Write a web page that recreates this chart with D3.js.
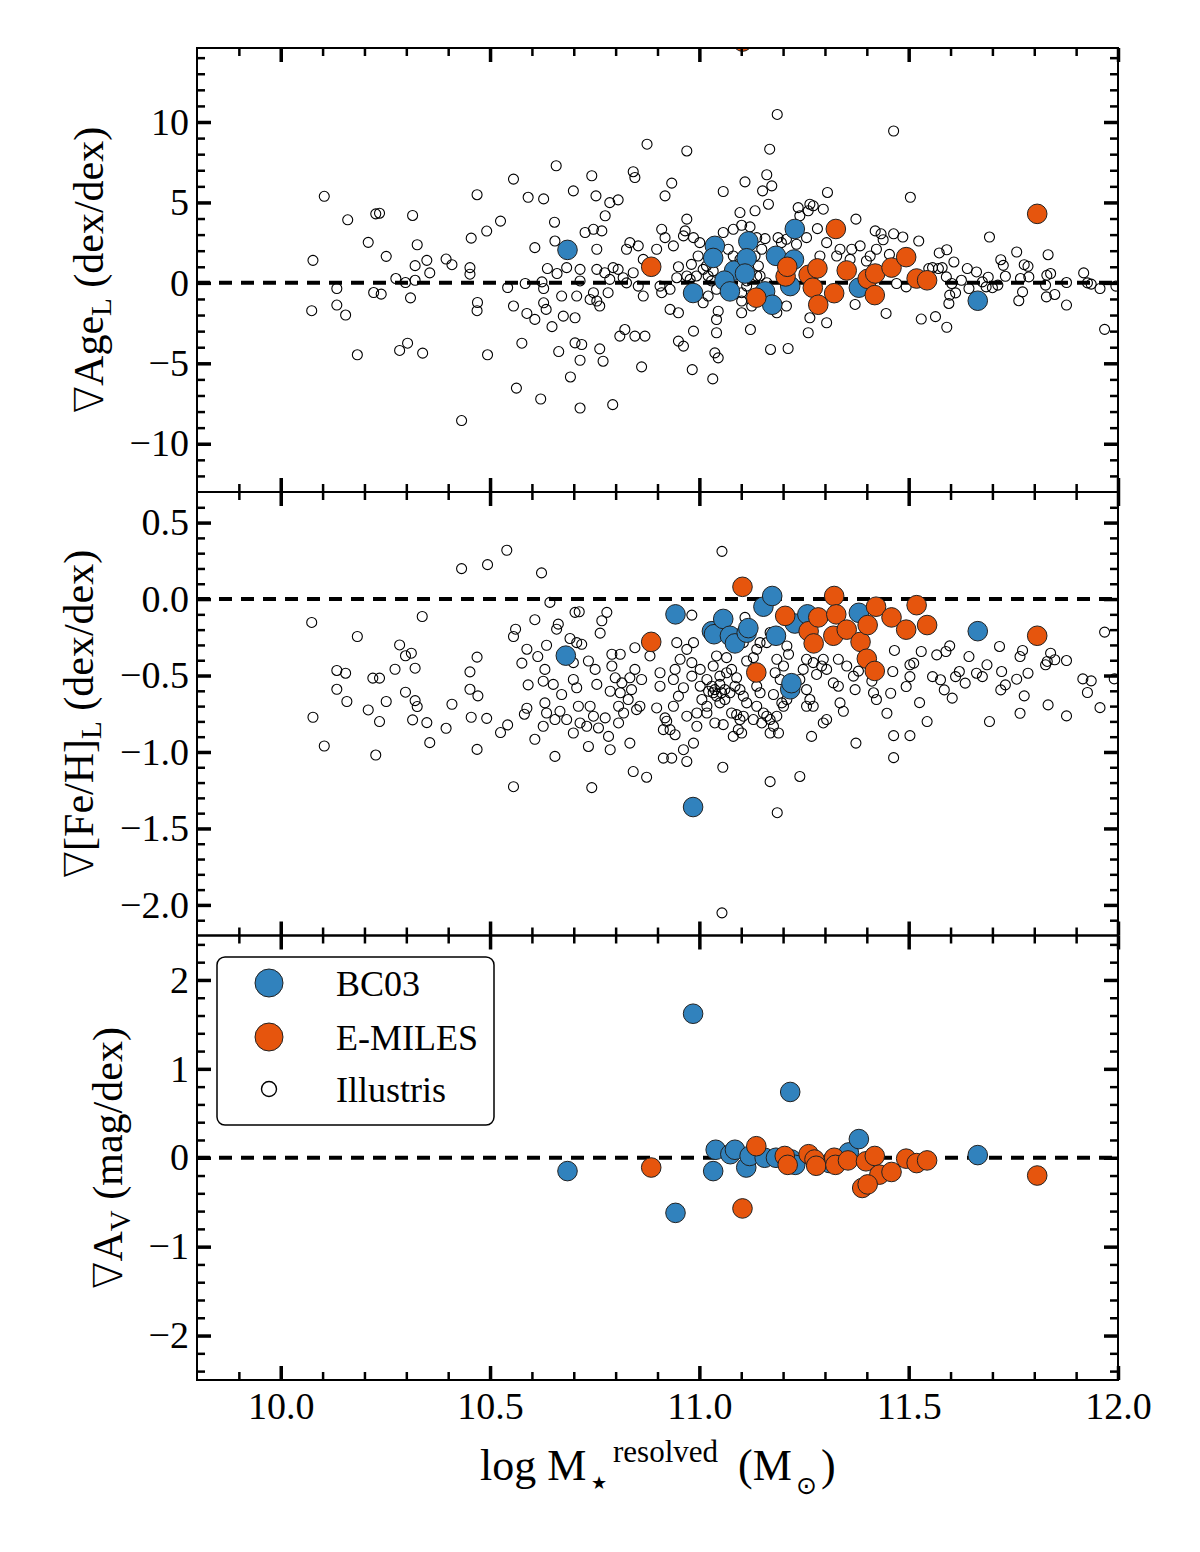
<!DOCTYPE html>
<html>
<head>
<meta charset="utf-8">
<script src="https://cdnjs.cloudflare.com/ajax/libs/d3/7.8.5/d3.min.js"></script>
<style>
  body { margin: 0; background: #fff; }
  svg { display: block; }
</style>
</head>
<body>
<div id="chart"></div>
<script>
// ---- data: [log M*, gradient] ----
var xTicks = [10.0, 10.5, 11.0, 11.5, 12.0];
var ageTicks = [-10, -5, 0, 5, 10];
var fehTicks = [-2.0, -1.5, -1.0, -0.5, 0.0, 0.5];
var avTicks = [-2, -1, 0, 1, 2];

var ageIllustris = [
  [10.077,1.40],[10.104,5.38],[10.074,-1.73],[10.134,-0.35],[10.134,-1.38],[10.155,-2.0],[10.16,3.92],[10.183,-4.47],
  [10.209,2.52],[10.227,4.29],[10.236,4.33],[10.222,-0.6],[10.24,-0.7],[10.252,1.65],[10.275,0.27],[10.284,-4.2],
  [10.303,-3.75],[10.298,0.02],[10.31,-0.93],[10.315,4.19],[10.321,0.16],[10.321,1.07],[10.326,2.37],[10.339,-4.37],
  [10.349,1.4],[10.356,0.62],[10.395,1.48],[10.409,1.13],[10.432,-8.56],[10.452,0.95],[10.452,0.54],[10.455,2.78],
  [10.469,5.48],[10.47,-1.22],[10.469,-1.73],[10.492,3.22],[10.494,-4.47],[10.525,3.84],[10.542,-0.29],[10.556,6.45],
  [10.556,-1.44],[10.563,-6.54],[10.576,-3.75],[10.584,-0.04],[10.588,-1.9],[10.591,5.32],[10.607,-2.27],[10.607,2.19],
  [10.621,-7.22],[10.624,0.06],[10.628,5.22],[10.628,-0.35],[10.628,-1.24],[10.634,-1.65],[10.637,0.89],[10.648,-2.72],
  [10.654,3.77],[10.655,2.6],[10.658,7.28],[10.66,0.58],[10.664,-4.27],
  [10.91,3.33],[10.918,2.81],[10.938,2.3],[10.95,1.0],[10.946,0.32],[10.966,3.23],[10.97,3.96],[10.962,2.92],
  [10.986,2.81],[11.001,2.5],[10.997,1.67],[10.981,1.15],[10.97,0.43],[10.978,0.22],[10.993,0.43],[11.009,0.84],
  [11.017,1.05],[11.021,0.43],[11.033,0.74],[11.029,0.12],[11.041,-0.4],[11.021,-0.82],[11.009,-1.24],[11.045,-1.76],
  [11.041,-2.28],[11.041,-3.1],[11.057,3.13],[11.081,3.33],[11.101,3.58],[11.121,3.48],[11.069,2.09],[11.081,1.67],
  [11.097,1.46],[11.137,2.81],[11.157,2.75],[11.149,2.09],[11.133,1.67],[11.141,1.05],[11.137,0.43],[11.113,0.12],
  [11.113,-0.2],[11.101,-0.61],[11.101,-1.13],[11.101,-1.86],[11.125,-1.44],[11.122,-2.9],[11.145,0.43],[11.161,0.01],
  [11.188,2.81],[11.196,2.5],[11.208,2.71],[11.208,-1.44],[11.185,-1.86],[11.212,-4.08],[11.17,-4.14],[11.185,1.67],
  [10.906,-0.2],[10.93,-0.4],[10.91,-0.61],[10.93,-1.65],[10.95,-1.86],[10.986,-3.0],[10.983,-5.39],[11.032,-5.97],
  [10.898,2.09],[10.866,1.46],[10.854,2.3],[10.834,2.5],[10.826,2.09],[10.842,0.63],[10.818,0.32],[10.806,0.84],
  [10.794,0.95],[10.774,0.63],[10.755,0.84],[10.786,0.22],[10.826,0.0],[10.854,-0.2],[10.866,-0.82],[10.747,-0.61],
  [10.782,-0.61],[10.755,-1.13],[10.739,-1.03],[10.762,-1.44],[10.707,-0.82],[10.715,0.12],[10.715,0.84],[10.683,0.95],
  [10.671,-0.82],[10.675,-2.07],[10.703,-2.17],[10.755,2.09],[10.727,3.13],[10.747,3.33],[10.767,3.23],[10.775,4.17],
  [10.786,4.99],[10.806,5.16],[10.753,5.41],[10.699,5.72],[10.743,6.66],[10.842,6.91],[10.846,6.55],[10.934,6.2],
  [10.918,5.41],[10.97,8.2],[11.057,5.68],[11.109,6.28],[11.161,6.72],[11.173,6.03],[11.151,5.72],[11.165,4.89],
  [11.133,4.48],[11.097,4.37],[10.81,-3.31],[10.822,-2.9],[10.846,-3.31],[10.87,-3.31],[10.703,-3.73],[10.719,-3.83],
  [10.762,-4.1],[10.77,-4.87],[10.715,-4.81],[10.692,-5.85],[10.862,-5.22],[10.95,-3.62],[10.962,-3.93],[11.037,-4.35],
  [11.045,-4.66],[10.793,-7.57],[10.715,-7.78],
  [11.236,4.68],[11.264,4.89],[11.272,4.79],[11.26,4.48],[11.296,4.58],[11.24,4.17],[11.306,5.62],[11.374,3.96],
  [11.282,3.37],[11.304,2.5],[11.256,2.81],[11.232,2.4],[11.336,2.09],[11.364,2.09],[11.384,2.3],[11.42,3.23],
  [11.288,1.67],[11.328,1.67],[11.36,1.46],[11.399,1.36],[11.423,2.09],[11.408,1.67],[11.415,0.74],[11.376,-0.4],
  [11.372,-1.34],[11.304,-2.48],[11.264,-2.17],[11.26,-3.1],[11.165,-0.61],
  [11.168,8.31],[10.875,8.62],[11.186,10.47],
  [11.434,3.05],[11.439,2.68],[11.464,3.05],[11.486,2.85],[11.524,2.6],[11.464,9.44],[11.504,5.32],[11.454,1.77],
  [11.446,-1.9],[11.53,-2.25],[11.564,-2.1],[11.591,-2.76],[11.596,-1.28],[11.598,-0.76],[11.612,-0.62],[11.573,1.86],
  [11.591,2.06],[11.608,1.3],[11.571,0.89],[11.58,0.95],[11.557,0.95],[11.64,0.89],[11.662,0.68],[11.626,0.16],
  [11.644,-0.35],[11.676,0.06],[11.685,-0.25],[11.693,2.85],[11.72,1.44],[11.726,1.09],[11.731,0.41],[11.713,-0.14],
  [11.758,1.92],[11.763,-1.11],[11.772,-0.56],[11.767,0.27],[11.776,1.13],[11.785,1.03],[11.787,0.37],[11.827,-0.14],
  [11.833,1.75],[11.83,0.47],[11.839,0.58],[11.829,-0.87],[11.849,-0.72],[11.877,-1.38],[11.877,0.02],[11.918,0.62],
  [11.927,0.0],[11.936,-0.08],[11.957,-0.35],[11.968,-2.89],[11.995,-0.2],
  [11.471,-0.04],[11.494,-0.25],[11.548,0.89],[11.59,0.37],[11.603,-0.04],[11.69,0.35],[11.7,-0.3]
];
var ageBC03 = [
  [10.685,2.05],[10.985,-0.63],[11.037,2.3],[11.033,1.55],[11.083,0.76],[11.117,2.58],[11.113,1.53],[11.109,0.58],
  [11.06,0.14],[11.073,-0.53],[11.183,1.68],[11.228,3.35],[11.226,1.45],[11.217,-0.2],[11.157,-0.53],[11.174,-1.36],
  [11.381,-0.3],[11.665,-1.11]
];
var ageEMILES = [
  [10.885,1.0],[11.103,15.0],[11.136,-0.92],[11.206,0.4],[11.21,1.0],[11.261,0.5],[11.271,-0.3],[11.284,-1.36],
  [11.282,0.9],[11.322,-0.64],[11.326,3.35],[11.352,0.77],[11.402,0.25],[11.42,0.58],[11.419,-0.76],[11.459,0.95],
  [11.494,1.6],[11.519,0.27],[11.544,0.16],[11.807,4.29]
];

var fehIllustris = [
  [10.074,-0.153],[10.077,-0.773],[10.104,-0.961],[10.134,-0.467],[10.155,-0.485],[10.134,-0.59],[10.158,-0.67],
  [10.183,-0.245],[10.209,-0.725],[10.22,-0.517],[10.236,-0.517],[10.236,-0.801],[10.227,-1.02],[10.252,-0.67],
  [10.273,-0.459],[10.284,-0.3],[10.298,-0.371],[10.312,-0.354],[10.321,-0.452],[10.298,-0.609],[10.321,-0.664],
  [10.326,-0.703],[10.315,-0.79],[10.349,-0.808],[10.356,-0.939],[10.338,-0.114],[10.395,-0.845],[10.409,-0.688],
  [10.432,0.199],[10.452,-0.476],[10.452,-0.59],[10.455,-0.773],[10.469,-0.38],[10.471,-0.633],[10.469,-0.983],
  [10.492,-0.78],[10.494,0.225],[10.525,-0.873],[10.54,0.319],[10.542,-0.823],[10.556,-0.245],[10.561,-0.197],
  [10.556,-1.227],[10.576,-0.419],[10.588,-0.328],[10.591,-0.561],[10.588,-0.714],[10.582,-0.753],[10.607,-0.135],
  [10.607,-0.917],[10.614,-0.376],
  [10.623,0.171],[10.643,-0.022],[10.663,-0.164],[10.659,-0.197],[10.635,-0.302],[10.691,-0.258],[10.707,-0.285],
  [10.719,-0.296],[10.703,-0.087],[10.713,-0.083],[10.767,-0.142],[10.763,-0.223],[10.779,-0.087],[10.631,-0.46],
  [10.651,-0.558],[10.627,-0.537],[10.631,-0.679],[10.671,-0.624],[10.635,-0.745],[10.655,-0.788],[10.627,-0.832],
  [10.667,-0.734],[10.683,-0.788],[10.699,-0.416],[10.699,-0.526],[10.707,-0.58],[10.711,-0.701],[10.699,-0.876],
  [10.715,-0.81],[10.735,-0.405],[10.751,-0.46],[10.755,-0.558],[10.739,-0.701],[10.747,-0.766],[10.731,-0.832],
  [10.759,-0.843],[10.783,-0.898],[10.735,-0.964],[10.787,-0.985],[10.655,-1.029],[10.743,-1.233],[10.791,-0.361],
  [10.811,-0.361],[10.791,-0.438],[10.799,-0.515],[10.787,-0.603],[10.811,-0.613],[10.807,-0.701],[10.775,-0.777],
  [10.807,-0.81],[10.819,-0.745],[10.834,-0.515],[10.846,-0.318],[10.846,-0.46],[10.83,-0.657],[10.858,-0.701],
  [10.85,-0.723],[10.834,-0.942],[10.842,-1.128],[10.874,-1.165],[10.862,-0.526],[10.882,-0.372],[10.898,-0.712],
  [10.906,-0.482],[10.906,-0.57],[10.914,-0.854],[10.918,-0.777],[10.914,-1.04],[10.934,-1.04],[10.922,-0.799],
  [10.93,-0.854],[10.938,-0.701],[10.946,-0.285],[10.954,-0.394],[10.942,-0.46],[10.938,-0.526],[10.95,-0.635],
  [10.942,-0.887],[10.962,-0.985],[10.97,-1.062],[10.986,-0.942],[10.982,-0.105],[10.97,-0.329],[10.986,-0.285],
  [10.982,-0.416],[10.982,-0.504],[10.962,-0.58],[10.97,-0.766],[10.994,-0.832],[10.994,-0.745],[11.002,-0.46],
  [11.002,-0.57],[11.006,-0.657],[11.018,-0.526],[11.018,-0.701],[11.022,-0.603],[11.03,-0.57],[11.033,-0.613],
  [11.037,-0.592],[11.041,-0.635],[11.049,-0.558],[11.053,-0.613],[11.049,-0.679],[11.061,-0.592],[11.061,-0.657],
  [11.073,-0.613],[11.037,-0.81],[11.057,-0.821],[11.018,-0.745],[11.033,-0.438],[11.041,-0.372],[11.049,-0.504],
  [11.065,-0.482],[11.077,-0.46],[11.089,-0.515],[11.085,-0.57],[11.097,-0.592],[11.105,-0.635],[11.113,-0.679],
  [11.077,-0.745],[11.089,-0.756],[11.105,-0.766],[11.097,-0.788],[11.081,-0.898],[11.101,-0.876],[11.093,-0.854],
  [11.056,-1.1],[11.109,-0.12],[11.113,-0.405],[11.129,-0.383],[11.137,-0.329],[11.145,-0.285],[11.137,-0.57],
  [11.145,-0.613],[11.137,-0.701],[11.153,-0.745],[11.129,-0.788],[11.149,-0.81],[11.169,-0.788],[11.177,-0.832],
  [11.169,-0.876],[11.189,-0.876],[11.161,-0.766],[11.185,-0.766],[11.177,-0.624],[11.185,-0.394],[11.201,-0.438],
  [11.209,-0.307],[11.213,-0.361],[11.181,-0.482],[11.193,-0.526],[11.209,-0.657],[11.201,-0.701],[11.197,-0.679],
  [11.169,-1.194],[11.24,-1.16],[11.24,-0.526],[11.248,-0.46],[11.256,-0.394],[11.272,-0.416],[11.256,-0.592],
  [11.264,-0.657],[11.256,-0.701],[11.272,-0.701],[11.268,-0.898],[11.296,-0.81],[11.304,-0.788],[11.28,-0.493],
  [11.292,-0.438],[11.296,-0.394],[11.304,-0.46],[11.32,-0.548],[11.332,-0.57],[11.336,-0.679],[11.344,-0.734],
  [11.332,-0.394],[11.352,-0.438],[11.368,-0.504],[11.38,-0.471],[11.372,-0.592],[11.374,-0.942],[11.412,-0.537],
  [11.416,-0.613],[11.423,-0.657],[11.193,-0.252],[11.161,-0.285],[11.169,-0.219],[11.105,-0.285],[11.065,-0.383],
  [10.838,-0.592],[10.815,-0.548],
  [11.186,-1.397],[11.054,-2.052],[11.054,0.312],
  [11.466,-0.336],[11.503,-0.43],[11.512,-0.419],[11.53,-0.343],[11.567,-0.365],[11.589,-0.343],[11.598,-0.306],
  [11.557,-0.507],[11.576,-0.528],[11.585,-0.594],[11.604,-0.648],[11.544,-0.801],[11.526,-0.677],[11.494,-0.572],
  [11.503,-0.507],[11.462,-0.474],[11.457,-0.616],[11.448,-0.747],[11.464,-0.893],[11.503,-0.893],[11.464,-1.037],
  [11.621,-0.474],[11.612,-0.507],[11.635,-0.55],[11.644,-0.376],[11.662,-0.485],[11.676,-0.507],[11.687,-0.43],
  [11.693,-0.801],[11.717,-0.31],[11.722,-0.474],[11.72,-0.594],[11.731,-0.561],[11.758,-0.524],[11.766,-0.747],
  [11.776,-0.633],[11.766,-0.376],[11.772,-0.336],[11.785,-0.485],[11.827,-0.43],[11.831,-0.408],[11.839,-0.354],
  [11.849,-0.397],[11.833,-0.692],[11.877,-0.402],[11.877,-0.764],[11.916,-0.522],[11.936,-0.535],[11.927,-0.611],
  [11.957,-0.71],[11.968,-0.216],[11.991,-0.522]
];
var fehBC03 = [
  [10.681,-0.37],[10.943,-0.1],[10.985,-1.36],[11.03,-0.21],[11.035,-0.23],[11.057,-0.13],[11.073,-0.24],
  [11.085,-0.29],[11.113,-0.22],[11.117,-0.19],[11.153,-0.05],[11.174,0.02],[11.183,-0.24],[11.217,-0.59],
  [11.22,-0.55],[11.228,-0.16],[11.258,-0.1],[11.381,-0.09],[11.665,-0.21]
];
var fehEMILES = [
  [10.885,-0.28],[11.103,0.08],[11.136,-0.48],[11.205,-0.11],[11.261,-0.21],[11.273,-0.29],[11.284,-0.12],
  [11.322,0.02],[11.327,-0.1],[11.32,-0.24],[11.352,-0.2],[11.385,-0.28],[11.4,-0.39],[11.419,-0.47],
  [11.402,-0.17],[11.422,-0.05],[11.459,-0.12],[11.494,-0.2],[11.519,-0.04],[11.544,-0.17],[11.807,-0.24]
];

var avBC03 = [
  [10.685,-0.15],[10.943,-0.62],[10.985,1.62],[11.033,-0.15],[11.039,0.09],[11.074,0.04],[11.085,0.09],
  [11.112,-0.11],[11.12,0.02],[11.156,0.0],[11.183,0.0],[11.217,0.74],[11.22,-0.02],[11.229,-0.08],
  [11.311,-0.06],[11.357,0.06],[11.381,0.21],[11.665,0.03]
];
var avEMILES = [
  [10.885,-0.11],[11.103,-0.57],[11.136,0.13],[11.204,0.02],[11.211,-0.08],[11.261,0.04],[11.275,-0.02],
  [11.279,-0.09],[11.322,0.0],[11.325,-0.08],[11.355,-0.03],[11.398,-0.04],[11.419,0.02],[11.43,-0.19],
  [11.459,-0.16],[11.389,-0.34],[11.402,-0.3],[11.494,-0.01],[11.519,-0.06],[11.544,-0.03],[11.807,-0.2]
];

// ---- layout ----
var svgWidth = 1200;
var svgHeight = 1552;
var FONT = "'Liberation Serif', 'Times New Roman', 'DejaVu Serif', serif";
var NABLA_FONT = "'DejaVu Sans', sans-serif";
var blue = "#3182bd";
var orange = "#e6550d";

var panels = [
  {top: 48, bottom: 492, domain: [-13, 14.6], ticks: ageTicks, minor: d3.range(-12, 15, 1), fmt: d3.format("d"),
   illustris: ageIllustris, bc03: ageBC03, emiles: ageEMILES},
  {top: 492, bottom: 935.5, domain: [-2.2, 0.7], ticks: fehTicks, minor: d3.range(-2.1, 0.65, 0.1), fmt: d3.format(".1f"),
   illustris: fehIllustris, bc03: fehBC03, emiles: fehEMILES},
  {top: 935.5, bottom: 1380, domain: [-2.5, 2.5], ticks: avTicks, minor: d3.range(-2.4, 2.45, 0.2), fmt: d3.format("d"),
   illustris: [], bc03: avBC03, emiles: avEMILES}
];

var x = d3.scaleLinear().domain([9.8, 12.0]).range([197, 1118]);
var xMinor = d3.range(9.9, 12.0, 0.1).filter(v => Math.abs(v * 2 - Math.round(v * 2)) > 1e-6);

var svg = d3.select("#chart").append("svg")
    .attr("width", svgWidth)
    .attr("height", svgHeight);

function notMajor(list, majors) {
  return list.filter(v => !majors.some(m => Math.abs(m - v) < 1e-6));
}

function styleAxis(g, width) {
  g.select(".domain").remove();
  g.selectAll(".tick line").attr("stroke", "#000").attr("stroke-width", width);
  g.attr("font-family", FONT).attr("font-size", 38);
}

panels.forEach(function(p, i) {
  var y = d3.scaleLinear().domain(p.domain).range([p.bottom, p.top]);
  var clipId = "clip" + i;
  svg.append("clipPath").attr("id", clipId)
    .append("rect")
    .attr("x", x.range()[0]).attr("y", p.top)
    .attr("width", x.range()[1] - x.range()[0])
    .attr("height", p.bottom - p.top);

  var plot = svg.append("g").attr("clip-path", `url(#${clipId})`);

  // zero line
  plot.append("line")
    .attr("x1", x(9.8)).attr("x2", x(12.0))
    .attr("y1", y(0)).attr("y2", y(0))
    .attr("stroke", "#000")
    .attr("stroke-width", 4)
    .attr("stroke-dasharray", "13,9");

  plot.append("g").selectAll("circle")
    .data(p.illustris)
    .enter()
    .append("circle")
    .attr("cx", d => x(d[0]))
    .attr("cy", d => y(d[1]))
    .attr("r", 5)
    .attr("fill", "none")
    .attr("stroke", "#000")
    .attr("stroke-width", 1.1);

  [[p.bc03, blue], [p.emiles, orange]].forEach(function(s) {
    plot.append("g").selectAll("circle")
      .data(s[0])
      .enter()
      .append("circle")
      .attr("cx", d => x(d[0]))
      .attr("cy", d => y(d[1]))
      .attr("r", 9.8)
      .attr("fill", s[1])
      .attr("stroke", "#222")
      .attr("stroke-width", 1);
  });

  // frame
  svg.append("rect")
    .attr("x", x.range()[0]).attr("y", p.top)
    .attr("width", x.range()[1] - x.range()[0])
    .attr("height", p.bottom - p.top)
    .attr("fill", "none")
    .attr("stroke", "#000")
    .attr("stroke-width", 2);

  var isLast = i === panels.length - 1;

  // x ticks (inward, top and bottom)
  svg.append("g").attr("transform", `translate(0,${p.bottom})`)
    .call(d3.axisBottom(x).tickValues(xTicks).tickSize(-14).tickPadding(12)
      .tickFormat(isLast ? d3.format(".1f") : () => ""))
    .call(g => styleAxis(g, 3.5));
  svg.append("g").attr("transform", `translate(0,${p.bottom})`)
    .call(d3.axisBottom(x).tickValues(xMinor).tickSize(-8).tickFormat(() => ""))
    .call(g => styleAxis(g, 2.5));
  svg.append("g").attr("transform", `translate(0,${p.top})`)
    .call(d3.axisTop(x).tickValues(xTicks).tickSize(-14).tickFormat(() => ""))
    .call(g => styleAxis(g, 3.5));
  svg.append("g").attr("transform", `translate(0,${p.top})`)
    .call(d3.axisTop(x).tickValues(xMinor).tickSize(-8).tickFormat(() => ""))
    .call(g => styleAxis(g, 2.5));

  // y ticks (inward, left and right)
  var minor = notMajor(p.minor, p.ticks);
  svg.append("g").attr("transform", `translate(${x.range()[0]},0)`)
    .call(d3.axisLeft(y).tickValues(p.ticks).tickSize(-14).tickPadding(8).tickFormat(p.fmt))
    .call(g => styleAxis(g, 3.5));
  svg.append("g").attr("transform", `translate(${x.range()[0]},0)`)
    .call(d3.axisLeft(y).tickValues(minor).tickSize(-8).tickFormat(() => ""))
    .call(g => styleAxis(g, 2.5));
  svg.append("g").attr("transform", `translate(${x.range()[1]},0)`)
    .call(d3.axisRight(y).tickValues(p.ticks).tickSize(-14).tickFormat(() => ""))
    .call(g => styleAxis(g, 3.5));
  svg.append("g").attr("transform", `translate(${x.range()[1]},0)`)
    .call(d3.axisRight(y).tickValues(minor).tickSize(-8).tickFormat(() => ""))
    .call(g => styleAxis(g, 2.5));
});

// y axis labels
function yLabel(bx, cy, main, sub, rest) {
  var t = svg.append("text")
    .attr("transform", `translate(${bx},${cy}) rotate(-90)`)
    .attr("text-anchor", "middle")
    .attr("font-family", FONT)
    .attr("font-size", 42);
  t.append("tspan").attr("font-family", NABLA_FONT).attr("font-weight", 200).attr("font-size", 40).text("\u2207");
  t.append("tspan").text(main);
  t.append("tspan").attr("font-size", 29).attr("dy", 8).text(sub);
  t.append("tspan").attr("dy", -8).text(rest);
}
yLabel(103, 270, "Age", "L", " (dex/dex)");
yLabel(93, 714, "[Fe/H]", "L", " (dex/dex)");
yLabel(122, 1158, "A", "V", " (mag/dex)");

// x axis label
var xl = svg.append("text").attr("font-family", FONT).attr("font-size", 44);
xl.append("tspan").attr("x", 480).attr("y", 1480).text("log M");
xl.append("tspan").attr("x", 591).attr("y", 1489).attr("font-size", 18)
  .attr("font-family", "'DejaVu Sans', sans-serif").text("\u2605");
xl.append("tspan").attr("x", 613).attr("y", 1462).attr("font-size", 31).text("resolved");
xl.append("tspan").attr("x", 738).attr("y", 1480).text("(M");
xl.append("tspan").attr("x", 796).attr("y", 1494).attr("font-size", 25)
  .attr("font-family", "'DejaVu Sans', sans-serif").text("\u2299");
xl.append("tspan").attr("x", 821).attr("y", 1480).text(")");

// legend
var legendItems = [
  {label: "BC03", color: blue, r: 14, hollow: false},
  {label: "E-MILES", color: orange, r: 14, hollow: false},
  {label: "Illustris", color: "none", r: 7.5, hollow: true}
];
var legend = svg.append("g").attr("transform", "translate(217,957)");
legend.append("rect")
  .attr("width", 277).attr("height", 168)
  .attr("rx", 8).attr("ry", 8)
  .attr("fill", "#fff")
  .attr("stroke", "#000")
  .attr("stroke-width", 1.5);
legendItems.forEach(function(it, k) {
  var cy = [26, 80, 132][k];
  legend.append("circle")
    .attr("cx", 52).attr("cy", cy).attr("r", it.r)
    .attr("fill", it.color)
    .attr("stroke", it.hollow ? "#000" : "#222")
    .attr("stroke-width", it.hollow ? 1.4 : 1);
  legend.append("text")
    .attr("x", 119).attr("y", cy + 13)
    .attr("font-family", FONT)
    .attr("font-size", 36)
    .text(it.label);
});
</script>
</body>
</html>
